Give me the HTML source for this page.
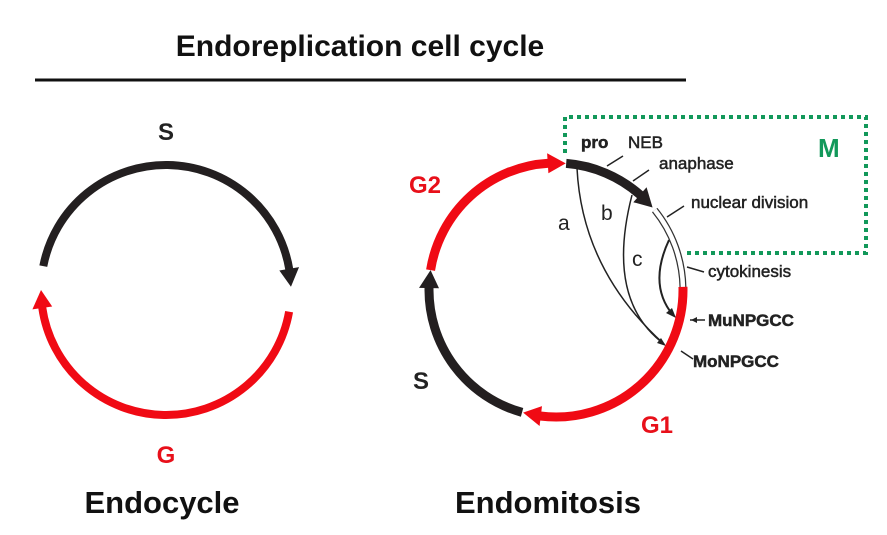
<!DOCTYPE html>
<html><head><meta charset="utf-8"><style>
html,body{margin:0;padding:0;background:#fff;}
svg{display:block;font-family:"Liberation Sans",Arial,sans-serif;}
</style></head><body>
<svg id="s" width="887" height="535" viewBox="0 0 887 535">
<text x="360" y="56" text-anchor="middle" font-size="30" font-weight="bold" fill="#111">Endoreplication cell cycle</text>
<line x1="35" y1="80" x2="686" y2="80" stroke="#111" stroke-width="3"/>
<text x="166" y="140" text-anchor="middle" font-size="24" font-weight="bold" fill="#222">S</text>
<text x="166" y="463" text-anchor="middle" font-size="24" font-weight="bold" fill="#e8101a">G</text>
<text x="162" y="513" text-anchor="middle" font-size="31" font-weight="bold" fill="#111">Endocycle</text>
<text x="548" y="513" text-anchor="middle" font-size="31" font-weight="bold" fill="#111">Endomitosis</text>
<path d="M565 153 V117 H866 V253 H686" fill="none" stroke="#12985a" stroke-width="4" stroke-dasharray="4 4"/>
<text x="818" y="157" font-size="26" font-weight="bold" fill="#12985a">M</text>
<text x="409" y="193" font-size="24" font-weight="bold" fill="#e8101a">G2</text>
<text x="413" y="389" font-size="24" font-weight="bold" fill="#222">S</text>
<text x="641" y="433" font-size="24" font-weight="bold" fill="#e8101a">G1</text>
<g font-size="17" fill="#222" stroke="#222" stroke-width="0.5">
<text x="581" y="148" font-weight="bold">pro</text>
<text x="628" y="148">NEB</text>
<text x="659" y="169">anaphase</text>
<text x="691" y="208">nuclear division</text>
<text x="708" y="277">cytokinesis</text>
<text x="708" y="326" font-weight="bold">MuNPGCC</text>
<text x="693" y="367" font-weight="bold">MoNPGCC</text>
</g>
<g font-size="21" fill="#222">
<text x="558" y="230">a</text>
<text x="601" y="220">b</text>
<text x="632" y="266">c</text>
</g>
<g stroke="#222" stroke-width="1.5" fill="none">
<line x1="607" y1="166" x2="623" y2="156"/>
<line x1="633" y1="181" x2="649" y2="170"/>
<line x1="667" y1="217" x2="684" y2="206"/>
<line x1="687" y1="267" x2="704" y2="272"/>
<line x1="690" y1="320" x2="705" y2="320"/>
<line x1="681" y1="351" x2="693" y2="359"/>
<path d="M577 168 Q582 270 664 344"/>
<path d="M632 195 Q605 300 664 344"/>
<path d="M669 240 Q648 285 673 315" stroke-width="2"/>
</g>
<polygon points="666,346 657,343 661,338" fill="#222"/>
<polygon points="676,318 666,313 672,308" fill="#222"/>
<polygon points="691,320 697,317 697,323" fill="#222"/>
<g id="arcs"></g>
</svg>
<script>
const NS='http://www.w3.org/2000/svg';
const g=document.getElementById('arcs');
function pt(cx,cy,r,a){const t=a*Math.PI/180;return [cx+r*Math.cos(t),cy+r*Math.sin(t)];}
function arc(cx,cy,r,a0,a1,color,w,arrow,name,fill){
  const al=18, aw=10;
  const end= arrow? a1-al/r*180/Math.PI : a1;
  const p0=pt(cx,cy,r,a0), p1=pt(cx,cy,r,end+0.3);
  const large=(end-a0)>180?1:0;
  const p=document.createElementNS(NS,'path');
  p.setAttribute('d',`M${p0[0]} ${p0[1]} A${r} ${r} 0 ${large} 1 ${p1[0]} ${p1[1]}`);
  p.setAttribute('fill','none');
  p.setAttribute('stroke',color);
  p.setAttribute('stroke-width',w);
  
  
  g.appendChild(p);
  if(fill){
    const q=document.createElementNS(NS,'path');
    q.setAttribute('d',p.getAttribute('d'));
    q.setAttribute('fill','none');q.setAttribute('stroke',fill);q.setAttribute('stroke-width',w-2.5);
    
    
    g.appendChild(q);
  }
  if(arrow){
    const tip=pt(cx,cy,r,a1);
    const bo=pt(cx,cy,r+aw,end), bi=pt(cx,cy,r-aw,end);
    const t=document.createElementNS(NS,'polygon');
    t.setAttribute('points',`${tip[0]},${tip[1]} ${bo[0]},${bo[1]} ${bi[0]},${bi[1]}`);
    t.setAttribute('fill',color);
    
    
    g.appendChild(t);
  }
}
const BLK='#231f20', RED='#f00a14';
// endocycle
arc(166,290,125,191,358.5,BLK,8,true,'endocycle-s-arc');
arc(166,290,125,10,180,RED,8,true,'endocycle-g-arc');
// endomitosis
arc(556,290,127,189,274.4,RED,9,true,'g2-arc');
arc(556,290,127,274.6,319.5,BLK,9,true,'m-arc');
arc(556,290,127,321,358.6,'#333',7,false,'cytokinesis-segment','#fff');
arc(556,290,127,358.6,465,RED,9,true,'g1-arc');
arc(556,290,127,105.5,189,BLK,9,true,'s-arc');
</script>
</body></html>
